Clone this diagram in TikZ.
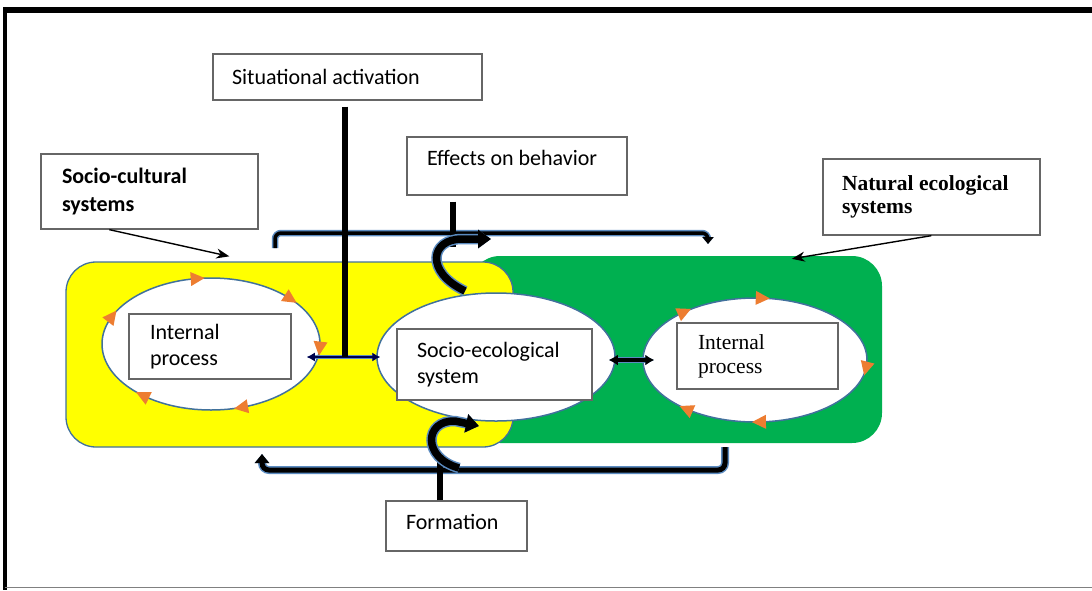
\documentclass[tikz,border=0pt]{standalone}
\usepackage{fontspec}
\setmainfont{Liberation Serif}
\newfontfamily\calibri{Carlito}
\usetikzlibrary{arrows.meta,shapes.geometric}

\definecolor{edgeblue}{HTML}{41719C}
\definecolor{glowblue}{HTML}{5B8BC0}
\definecolor{boxgray}{HTML}{666666}
\definecolor{natgreen}{HTML}{00B050}
\definecolor{socyellow}{HTML}{FFFF00}
\definecolor{tiporange}{HTML}{ED7D31}

\tikzset{
  textbox/.style={draw=boxgray, line width=1.3pt, fill=white, align=flush left, inner ysep=0pt},
  sans/.style={font=\calibri\fontsize{22}{26}\selectfont},
  serif/.style={font=\fontsize{21.5}{24}\selectfont},
  cycle/.style={ellipse, draw=edgeblue, line width=1.5pt, fill=white, inner sep=0pt},
  region/.style={rounded corners=30pt, inner sep=0pt},
  bar/.style={draw=black, line width=6.5pt},
  pointer/.style={draw=black, line width=1.4pt, -{Stealth[length=13pt,width=10pt]}},
  thinlink/.style={draw=black!70!blue, line width=2pt, preaction={draw=glowblue, line width=4.5pt},
    {Latex[length=8pt,width=9pt]}-{Latex[length=8pt,width=9pt]}},
  thicklink/.style={draw=black, line width=3.5pt, preaction={draw=glowblue, line width=6.5pt},
    {Latex[length=9pt,width=11pt]}-{Latex[length=9pt,width=11pt]}},
  topbracket/.style={draw=black, line width=3.5pt, preaction={draw=glowblue, line width=6.5pt},
    rounded corners=6pt, -{Triangle[length=7pt,width=11pt]}},
  lowbracket/.style={draw=black, line width=5pt, preaction={draw=glowblue, line width=8pt},
    rounded corners=7pt, -{Triangle[length=9pt,width=14pt]}},
  curlarrow/.style={draw=black, line width=7.5pt, preaction={draw=glowblue, line width=10.5pt},
    -{Triangle[length=13pt,width=18pt]}},
}

% small orange arrowhead on an elliptic loop, running clockwise
% #1,#2 centre  #3,#4 half axes  #5 parameter angle
\newcommand\cyctip[5]{%
  \pgfmathsetmacro\tipx{#1+#3*cos(#5)}%
  \pgfmathsetmacro\tipy{#2+#4*sin(#5)}%
  \pgfmathsetmacro\tipa{atan2(-#4*cos(#5),-#3*sin(#5))}%
  \fill[tiporange, shift={(\tipx,\tipy)}, rotate=\tipa] (7,0) -- (-7,-7) -- (-7,7) -- cycle;
}

\begin{document}
\begin{tikzpicture}[x=1pt,y=-1pt]
\useasboundingbox (0,0) rectangle (1092,590);

% page frame
\draw[black, line width=6pt] (3,10) -- (1092,10);
\draw[black, line width=4pt] (5,7) -- (5,590);
\draw[gray, line width=1pt] (5,587.5) -- (1092,587.5);

% the two systems
\node[region, fill=natgreen, minimum width=412pt, minimum height=187pt] (ne) at (676,349.5) {};
\node[region, fill=socyellow, draw=edgeblue, line width=1.3pt, minimum width=447pt, minimum height=185pt] (sc) at (289.5,354.5) {};

% loops
\node[cycle, minimum width=218pt, minimum height=132pt] (lcyc) at (211,344) {};
\node[cycle, minimum width=238pt, minimum height=128pt] (mcyc) at (496,357) {};
\node[cycle, minimum width=224pt, minimum height=124pt] (rcyc) at (755,360) {};

% labelled boxes
\node[textbox, sans, inner xsep=21pt, text width=120pt, minimum height=65pt] (lbox) at (210,346.5) {Internal\\process};
\node[textbox, sans, inner xsep=20pt, text width=155pt, minimum height=71pt] (mbox) at (494.5,364.5) {Socio-ecological\\system};
\node[textbox, serif, inner xsep=21pt, text width=119pt, minimum height=66pt] (rbox) at (757.5,356) {Internal\\process};

\node[textbox, sans, inner xsep=19pt, text width=231pt, minimum height=46pt] (sit) at (347.5,77) {Situational activation};
\node[textbox, sans, inner xsep=20pt, text width=180pt, minimum height=58pt, text depth=16pt] (eff) at (517,166) {Effects on behavior};
\node[textbox, inner xsep=21pt, text width=175pt, minimum height=75pt,
      font=\calibri\bfseries\fontsize{22}{28}\selectfont] (scbox) at (149.5,191.5) {Socio-cultural\\systems};
\node[textbox, inner xsep=19pt, text width=179pt, minimum height=76pt,
      font=\bfseries\fontsize{21.5}{23}\selectfont] (nebox) at (931.5,197) {Natural ecological\\systems};
\node[textbox, sans, inner xsep=20pt, text width=101pt, minimum height=50pt, text depth=8pt] (form) at (456.5,526) {Formation};

% pointers to the systems
\draw[pointer] ([xshift=69pt]scbox.south west) -- ([xshift=164pt,yshift=5pt]sc.north west);
\draw[pointer] ([xshift=109pt]nebox.south west) -- ([xshift=322pt,yshift=-3pt]ne.north west);

% links between the loops
\draw[thinlink] ([xshift=-14pt,yshift=-13pt]lcyc.east) -- ([xshift=4pt]mcyc.west);
\draw[thicklink] ([xshift=-7pt,yshift=-3pt]mcyc.east) -- ([xshift=12pt]rcyc.west);

% feedback brackets
\coordinate (tbl) at (275,248);
\coordinate (tbr) at (708,244);
\draw[topbracket] (tbl) -- (tbl |- 0,233) -- (tbr |- 0,233) -- (tbr);
\coordinate (lbr) at (725,447);
\coordinate (lbl) at (262,454);
\draw[lowbracket] (lbr) -- (lbr |- 0,470) -- (lbl |- 0,470) -- (lbl);

% situational activation
\coordinate (sitjoin) at (345,357);
\draw[bar] ([yshift=-6pt]sitjoin |- sit.south) -- (sitjoin);

% effects on behaviour
\coordinate (effjoin) at (453,247);
\coordinate (effcurl) at (465,291);
\coordinate (effhead) at (491,239);
\draw[bar] ([yshift=-6pt]effjoin |- eff.south) -- (effjoin);
\draw[curlarrow] (effcurl) .. controls (425,272) and (430,239) .. (462,239) -- (effhead);

% formation
\coordinate (formjoin) at (440,462);
\coordinate (formcurl) at (459,468);
\coordinate (formhead) at (479,426);
\draw[bar] (formjoin |- form.north) -- (formjoin);
\draw[curlarrow] (formcurl) .. controls (422,458) and (424,420) .. (455,421) -- (formhead);

% circulation marks on the loops
\cyctip{211}{344}{109}{66}{263}
\cyctip{211}{344}{109}{66}{317}
\cyctip{211}{344}{109}{66}{4}
\cyctip{211}{344}{109}{66}{74}
\cyctip{211}{344}{109}{66}{129}
\cyctip{211}{344}{109}{66}{205}
\cyctip{755}{360}{112}{62}{231}
\cyctip{755}{360}{112}{62}{274}
\cyctip{755}{360}{112}{62}{8}
\cyctip{755}{360}{112}{62}{88}
\cyctip{755}{360}{112}{62}{128}
\end{tikzpicture}
\end{document}
